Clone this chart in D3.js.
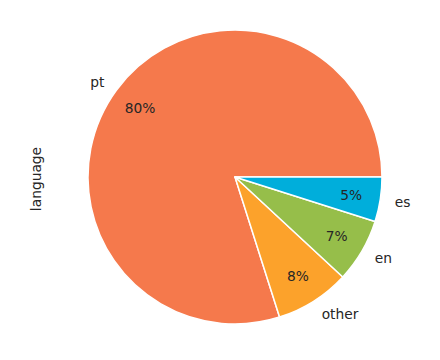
<!DOCTYPE html>
<html>
<head>
<meta charset="utf-8">
<script src="https://cdn.jsdelivr.net/npm/d3@7"></script>
<style>
  html, body { margin: 0; padding: 0; background: #fff; }
  svg { display: block; }
  text { font-family: "DejaVu Sans", sans-serif; fill: #262626; }
</style>
</head>
<body>
<svg id="chart" width="440" height="360"></svg>
<script>
const categories = ["pt", "other", "en", "es"];
const values = [79.9, 8.2, 7.0, 4.9];
const colors = ["#F5794C", "#FCA22B", "#96BE4A", "#00AEDB"];
const yLabel = "language";

const svg = d3.select("#chart");
const cx = 235, cy = 177, r = 147;
const fs = 13.8;
const g = svg.append("g").attr("transform", `translate(${cx},${cy})`);

const data = categories.map((c, i) => ({ cat: c, value: values[i], color: colors[i] }));
const total = d3.sum(values);

// matplotlib style: start at 3 o'clock, counterclockwise
const pie = d3.pie().value(d => d.value).sort(null)
  .startAngle(Math.PI / 2).endAngle(Math.PI / 2 - 2 * Math.PI);
const arcs = pie(data);
const arc = d3.arc().innerRadius(0).outerRadius(r);

g.selectAll("path.slice").data(arcs).join("path")
  .attr("class", "slice")
  .attr("d", arc)
  .attr("fill", d => d.data.color)
  .attr("stroke", "#fff")
  .attr("stroke-width", 1.5)
  .attr("stroke-linejoin", "round");

function pos(d, k) {
  const a = (d.startAngle + d.endAngle) / 2; // d3 angle: 0 at 12 o'clock, clockwise
  return [Math.sin(a) * r * k, -Math.cos(a) * r * k];
}

g.selectAll("text.pct").data(arcs).join("text")
  .attr("class", "pct")
  .attr("x", d => pos(d, 0.8)[0])
  .attr("y", d => pos(d, 0.8)[1])
  .attr("text-anchor", "middle")
  .attr("dominant-baseline", "central")
  .attr("font-size", fs)
  .text(d => d3.format(".0f")(d.data.value / total * 100) + "%");

g.selectAll("text.lab").data(arcs).join("text")
  .attr("class", "lab")
  .attr("x", d => pos(d, 1.1)[0])
  .attr("y", d => pos(d, 1.1)[1])
  .attr("text-anchor", d => pos(d, 1.1)[0] > 0 ? "start" : "end")
  .attr("dominant-baseline", "central")
  .attr("font-size", fs)
  .text(d => d.data.cat);

svg.append("text")
  .attr("transform", `translate(41,${cy + 2}) rotate(-90)`)
  .attr("text-anchor", "middle")
  .attr("font-size", fs)
  .text(yLabel);
</script>
</body>
</html>
